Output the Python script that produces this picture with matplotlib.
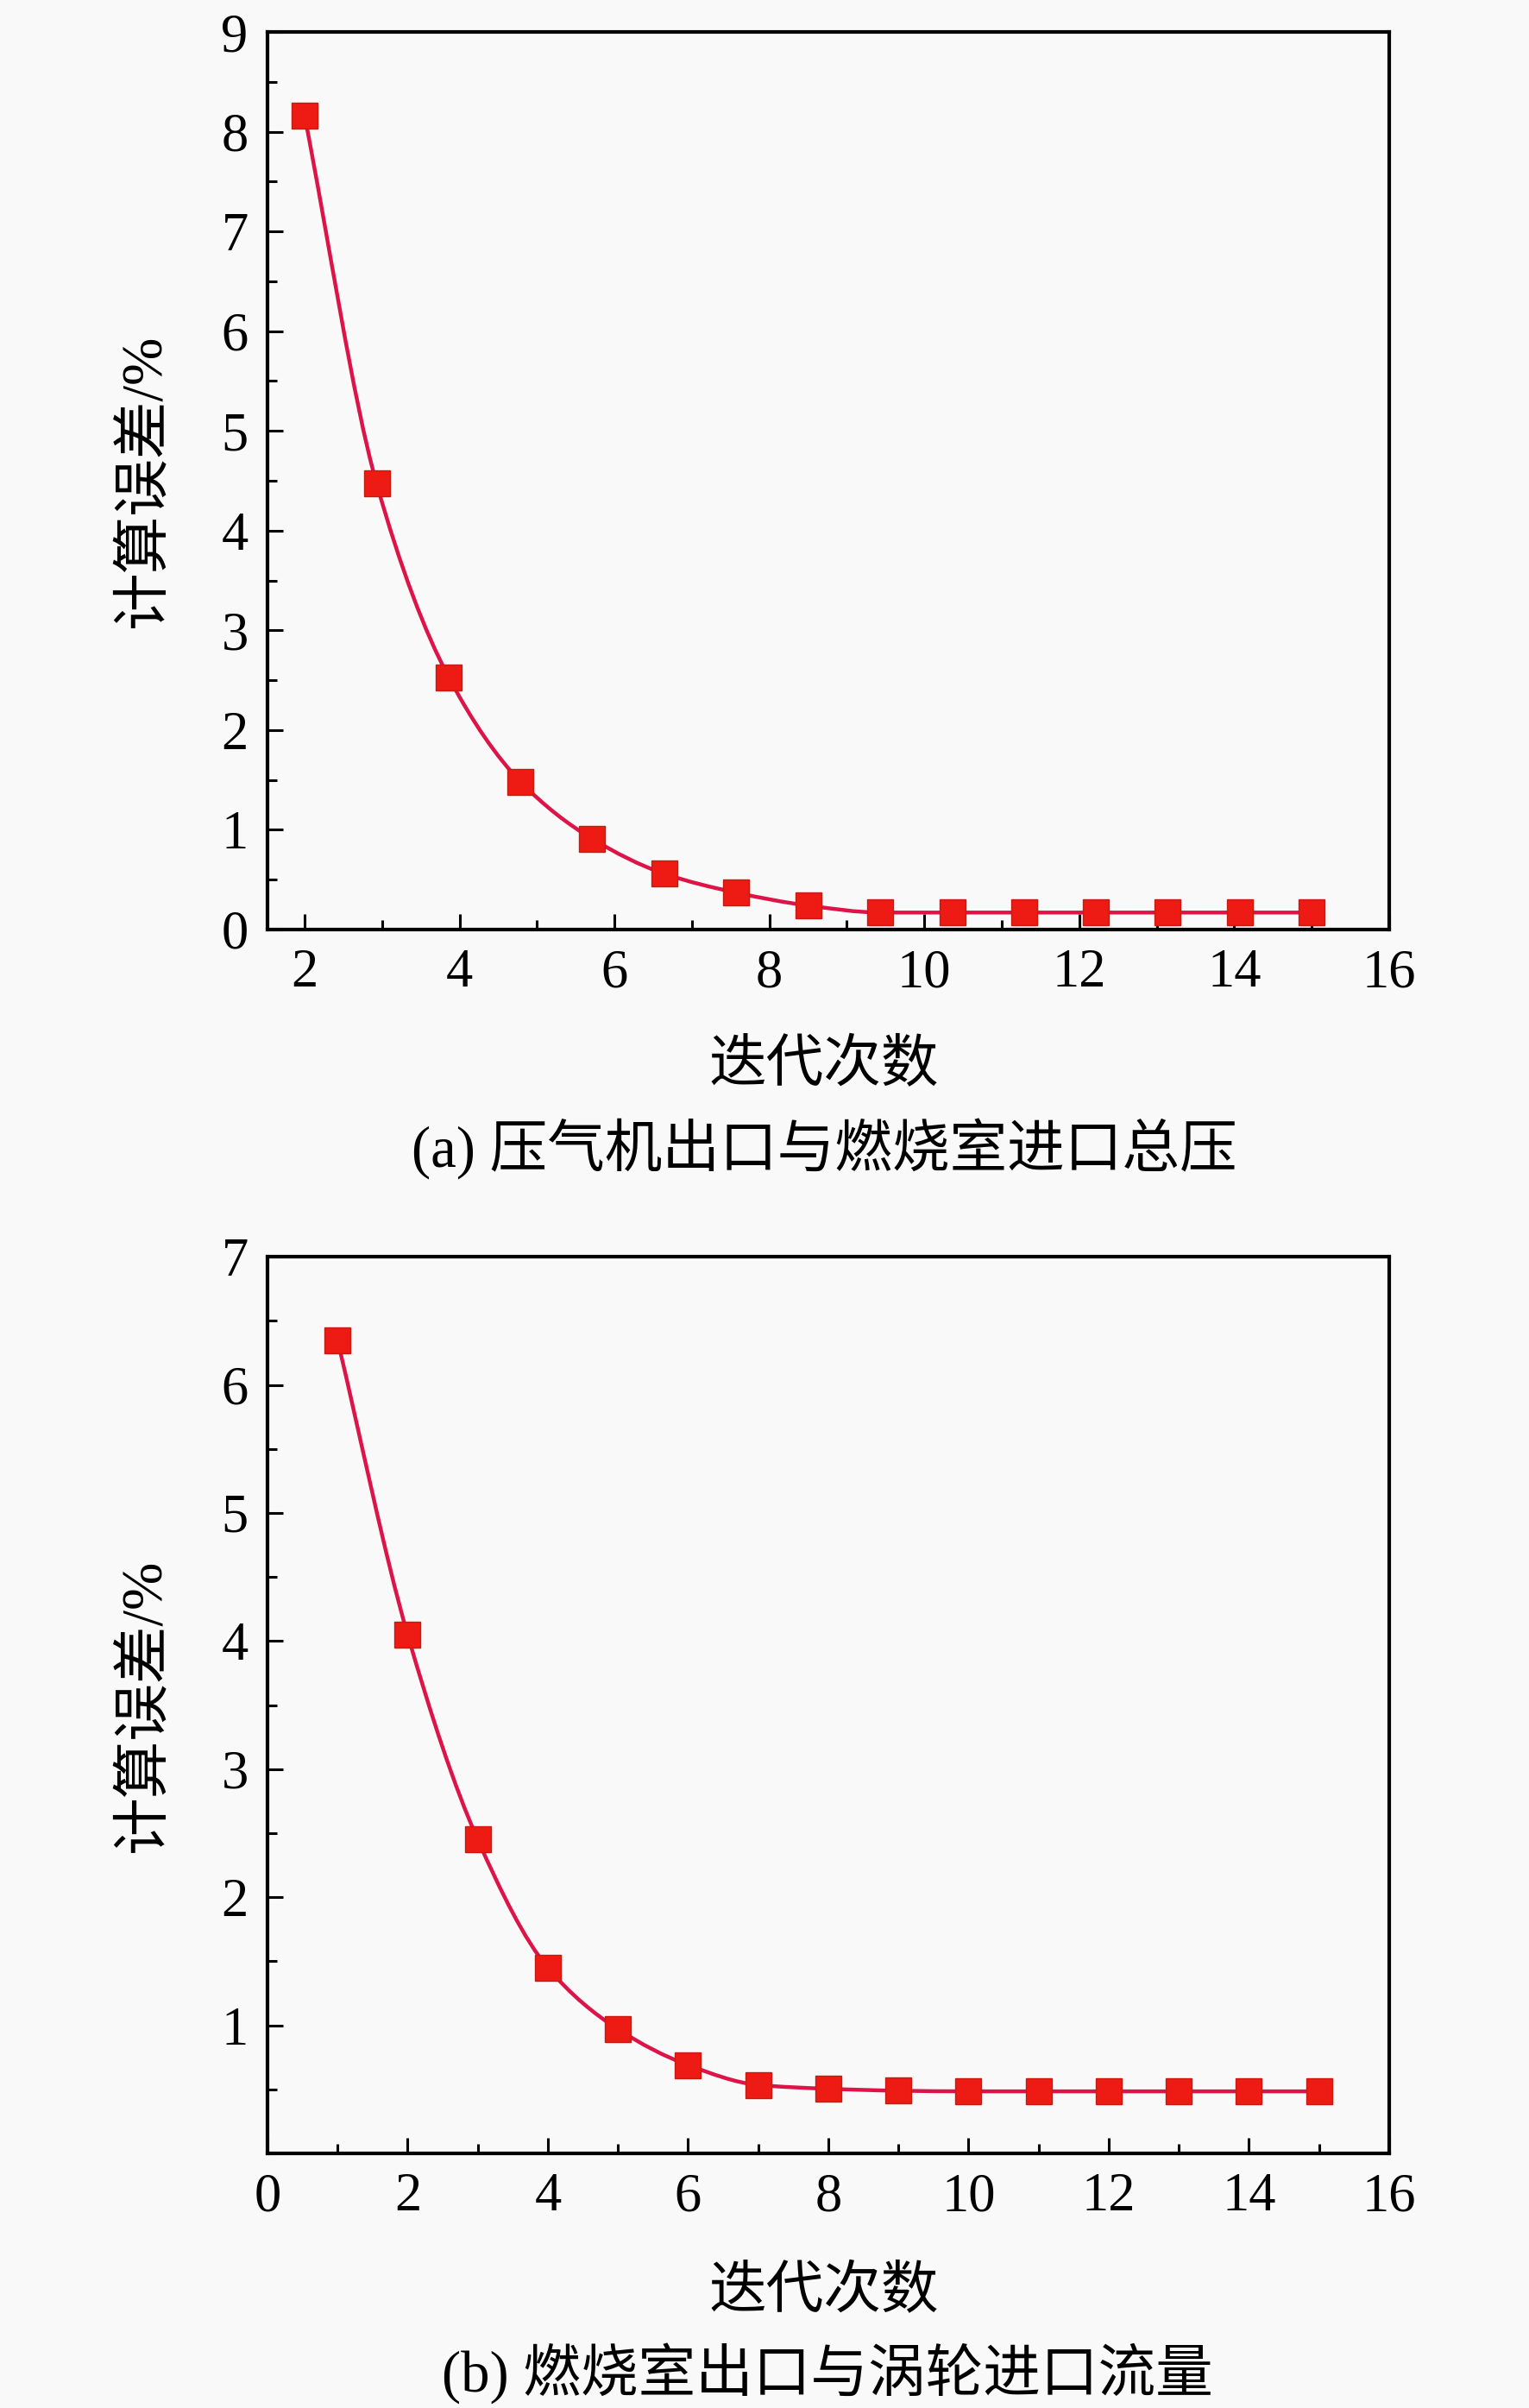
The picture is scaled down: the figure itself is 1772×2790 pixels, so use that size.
import numpy as np
import matplotlib
matplotlib.use("Agg")
import matplotlib.pyplot as plt
from matplotlib.path import Path
from matplotlib.patches import PathPatch
from matplotlib.ticker import MultipleLocator

plt.rcParams["font.family"] = ["Liberation Serif", "Noto Sans CJK SC"]

# (a) compressor outlet / combustor inlet total pressure
iter_a = [2.0, 2.93, 3.86, 4.79, 5.71, 6.64, 7.57, 8.5, 9.43, 10.36, 11.29, 12.21, 13.14, 14.07, 15.0]
err_a = [8.16, 4.47, 2.53, 1.48, 0.91, 0.56, 0.37, 0.24, 0.17, 0.17, 0.17, 0.17, 0.17, 0.17, 0.17]

# (b) combustor outlet / turbine inlet mass flow
iter_b = [1, 2, 3, 4, 5, 6, 7, 8, 9, 10, 11, 12, 13, 14, 15]
err_b = [6.35, 4.05, 2.45, 1.45, 0.97, 0.69, 0.535, 0.505, 0.49, 0.485, 0.485, 0.485, 0.485, 0.485, 0.485]

xlabel = "迭代次数"
ylabel = "计算误差/%"
caption_a = "(a) 压气机出口与燃烧室进口总压"
caption_b = "(b) 燃烧室出口与涡轮进口流量"

LINE_COLOR = "#dc1448"
MARKER_FACE = "#ee1a14"
MARKER_EDGE = "#c81a10"
BG = "#f9f9f9"


def smooth_path(x, y):
    """Monotone cubic (Fritsch-Carlson) curve through the points as a Bezier path."""
    x = np.asarray(x, float)
    y = np.asarray(y, float)
    h = np.diff(x)
    d = np.diff(y) / h
    m = np.zeros_like(y)
    m[0], m[-1] = d[0], d[-1]
    for i in range(1, len(y) - 1):
        if d[i - 1] * d[i] <= 0:
            m[i] = 0.0
        else:
            w1 = 2 * h[i] + h[i - 1]
            w2 = h[i] + 2 * h[i - 1]
            m[i] = (w1 + w2) / (w1 / d[i - 1] + w2 / d[i])
    verts = [(x[0], y[0])]
    codes = [Path.MOVETO]
    for i in range(len(h)):
        verts.append((x[i] + h[i] / 3, y[i] + m[i] * h[i] / 3))
        verts.append((x[i + 1] - h[i] / 3, y[i + 1] - m[i + 1] * h[i] / 3))
        verts.append((x[i + 1], y[i + 1]))
        codes += [Path.CURVE4] * 3
    return Path(verts, codes)


def style_axes(ax):
    ax.set_facecolor(BG)
    for sp in ax.spines.values():
        sp.set_linewidth(3)
    ax.tick_params(which="both", direction="in", top=False, right=False,
                   labelsize=45, width=2.2, pad=16)
    ax.tick_params(which="major", length=13)
    ax.tick_params(which="minor", length=8)


def draw_series(ax, x, y):
    ax.add_patch(PathPatch(smooth_path(x, y), fill=False, edgecolor=LINE_COLOR,
                           linewidth=3.2, zorder=2))
    ax.plot(x, y, ls="none", marker="s", markersize=21, markerfacecolor=MARKER_FACE,
            markeredgecolor=MARKER_EDGE, markeredgewidth=1, zorder=3, clip_on=False)


fig = plt.figure(figsize=(17.72, 27.9), dpi=100)
fig.patch.set_facecolor(BG)

ax_a = fig.add_axes([0.1749, 0.6140, 0.7336, 0.3727])
ax_b = fig.add_axes([0.1749, 0.1057, 0.7336, 0.3724])

# panel (a)
style_axes(ax_a)
draw_series(ax_a, iter_a, err_a)
ax_a.set_xlim(1.52, 16)
ax_a.set_ylim(0, 9)
ax_a.set_xticks([2, 4, 6, 8, 10, 12, 14, 16])
ax_a.xaxis.set_minor_locator(MultipleLocator(1))
ax_a.set_yticks([0, 1, 2, 3, 4, 5, 6, 7, 8, 9])
ax_a.yaxis.set_minor_locator(MultipleLocator(0.5))
ax_a.set_xlabel(xlabel, fontsize=48)
ax_a.xaxis.set_label_coords(0.496, -0.123)
ax_a.set_ylabel(ylabel, fontsize=48)
ax_a.yaxis.set_label_coords(-0.086, 0.5)

# panel (b)
style_axes(ax_b)
draw_series(ax_b, iter_b, err_b)
ax_b.set_xlim(0, 16)
ax_b.set_ylim(0, 7)
ax_b.set_xticks([0, 2, 4, 6, 8, 10, 12, 14, 16])
ax_b.xaxis.set_minor_locator(MultipleLocator(1))
ax_b.set_yticks([1, 2, 3, 4, 5, 6, 7])
ax_b.yaxis.set_minor_locator(MultipleLocator(0.5))
ax_b.set_xlabel(xlabel, fontsize=48)
ax_b.xaxis.set_label_coords(0.496, -0.126)
ax_b.set_ylabel(ylabel, fontsize=48)
ax_b.yaxis.set_label_coords(-0.086, 0.5)

fig.text(0.539, 1 - 1331 / 2790, caption_a, fontsize=48, ha="center", va="center")
fig.text(0.541, 1 - 2750 / 2790, caption_b, fontsize=48, ha="center", va="center")

fig.savefig("out.png", dpi=100, facecolor=BG)
